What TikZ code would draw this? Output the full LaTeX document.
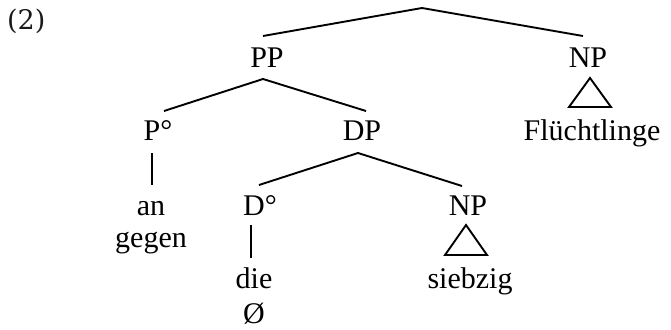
\documentclass[tikz,border=0pt]{standalone}
\usepackage{fontspec}
\setmainfont{Liberation Serif}
\newfontfamily\exfont{DejaVu Serif}
\begin{document}
\begin{tikzpicture}[x=1pt,y=-1pt,
  lbl/.style={inner sep=0pt,outer sep=0pt,anchor=base,font=\fontsize{30}{33}\selectfont},
  edge/.style={line width=1.9pt},
  tri/.style={line width=1.9pt,line join=miter}]
\useasboundingbox (0,0) rectangle (671,329);
% example number
\node[inner sep=0pt,anchor=base west,font=\exfont\fontsize{27}{30}\selectfont,text=black!90] (ex) at (7,30) {(2)};
% labels
\node[lbl] (PP) at (267,67) {PP};
\node[lbl] (NP1) at (588,67) {NP};
\node[lbl] (Fl) at (592,140) {Flüchtlinge};
\node[lbl] (P0) at (158,140) {P°};
\node[lbl] (DP) at (362,140) {DP};
\node[lbl] (an) at (151,215) {an};
\node[lbl] (gegen) at (151,247) {gegen};
\node[lbl] (D0) at (260,215) {D°};
\node[lbl] (NP2) at (468,215) {NP};
\node[lbl] (die) at (254,288) {die};
\node[lbl] (null) at (254,323) {Ø};
\node[lbl] (sz) at (470,288) {siebzig};
% branch points
\coordinate (root) at (422,8);
\coordinate (rootL) at (263,36);
\coordinate (rootR) at (583,36);
\coordinate (PPb) at (263,79);
\coordinate (PPl) at (164,111);
\coordinate (PPr) at (366,111);
\coordinate (DPb) at (358,153);
\coordinate (DPl) at (259,185);
\coordinate (DPr) at (462,186);
\coordinate (P0a) at (152,153);
\coordinate (P0b) at (152,185);
\coordinate (D0a) at (251,225);
\coordinate (D0b) at (251,258);
\coordinate (T1a) at (590,78);
\coordinate (T1b) at (569,107);
\coordinate (T1c) at (611,107);
\coordinate (T2a) at (466,225);
\coordinate (T2b) at (445,255);
\coordinate (T2c) at (487,255);
% edges
\draw[edge] (rootL) -- (root) -- (rootR);
\draw[edge] (PPl) -- (PPb) -- (PPr);
\draw[edge] (DPl) -- (DPb) -- (DPr);
\draw[edge] (P0a) -- (P0b);
\draw[edge] (D0a) -- (D0b);
\draw[tri] (T1a) -- (T1b) -- (T1c) -- cycle;
\draw[tri] (T2a) -- (T2b) -- (T2c) -- cycle;
\end{tikzpicture}
\end{document}
